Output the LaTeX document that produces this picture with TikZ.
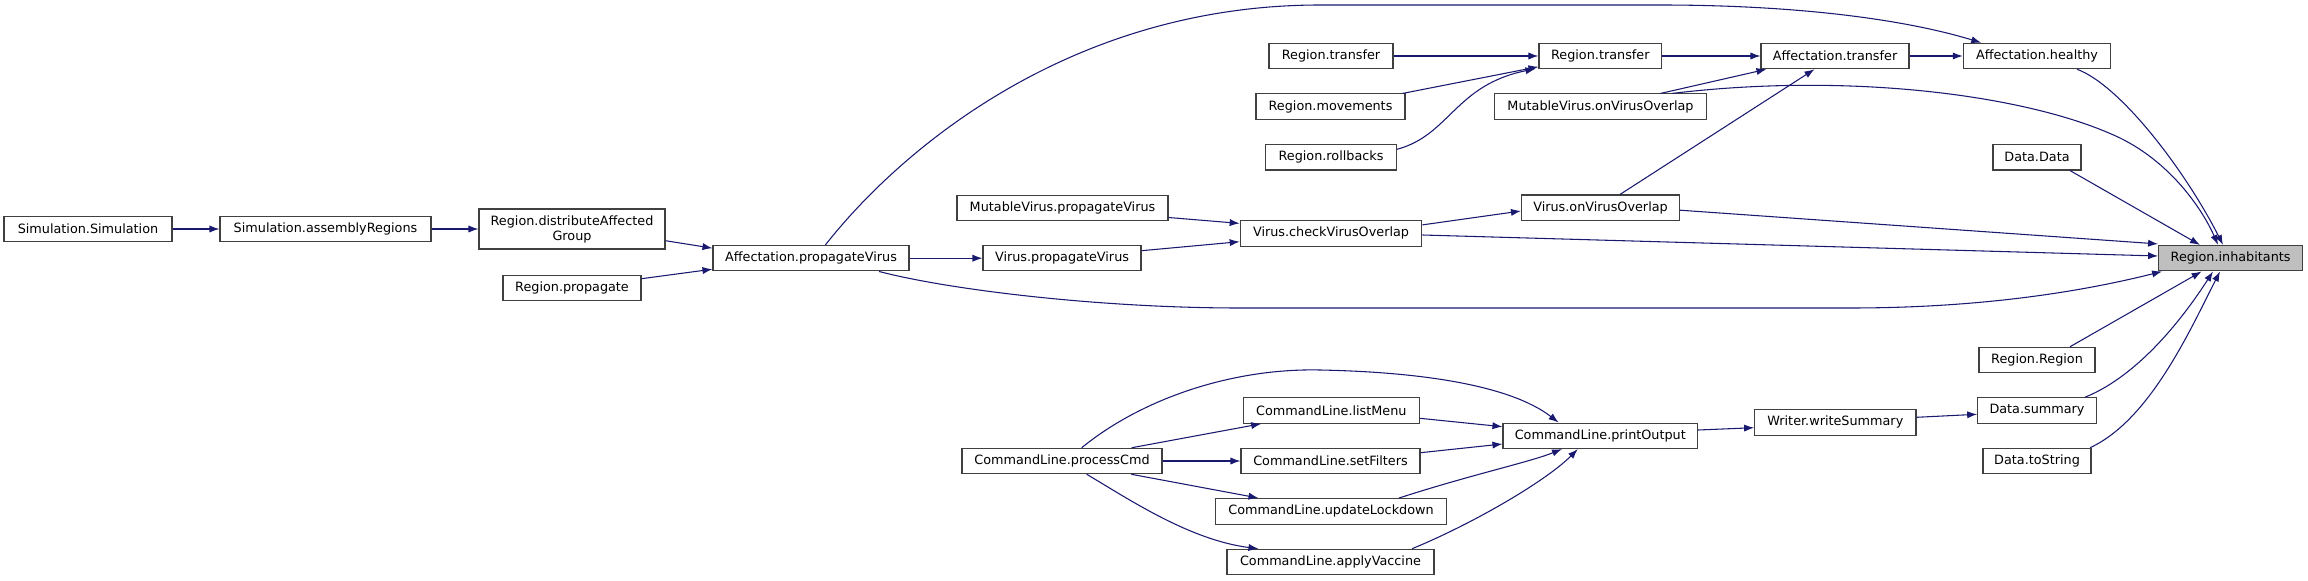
\documentclass[tikz,border=0pt]{standalone}
\usepackage{fontspec}
\setmainfont{DejaVu Sans}
\usetikzlibrary{arrows.meta,calc}
\definecolor{edgecol}{HTML}{191970}
\definecolor{boxline}{HTML}{404040}
\definecolor{rootfill}{HTML}{BFBFBF}
\begin{document}
\begin{tikzpicture}[x=0.75pt,y=-0.75pt,
  nd/.style={draw=boxline,line width=0.8pt,fill=white,inner sep=0pt,minimum height=19.1pt,minimum width=#1,font=\fontsize{9.6}{11.25}\selectfont,align=center},
  rootnd/.style={nd=#1,fill=rootfill},
  edge/.style={draw=edgecol,line width=0.8pt,-{Latex[length=7.5pt,width=5.4pt]}}]
\useasboundingbox (0,0) rectangle (2308,581);
% nodes
\node[nd=126pt] (sim) at (88,229) {Simulation.Simulation};
\node[nd=158.25pt] (asm) at (325.5,229) {Simulation.assemblyRegions};
\node[nd=139.5pt,minimum height=30pt] (dist) at (572,229) {Region.distributeAffected\\Group};
\node[nd=103.5pt] (rprop) at (572,288) {Region.propagate};
\node[nd=147pt] (apv) at (811,258.2) {Affectation.propagateVirus};
\node[nd=158.25pt] (mpv) at (1062.5,208) {MutableVirus.propagateVirus};
\node[nd=118.5pt] (vpv) at (1062,258.2) {Virus.propagateVirus};
\node[nd=136.2pt] (vcv) at (1331,233.4) {Virus.checkVirusOverlap};
\node[nd=118.5pt] (vov) at (1600.5,207.7) {Virus.onVirusOverlap};
\node[nd=93pt] (rt1) at (1331,56) {Region.transfer};
\node[nd=111.75pt] (rmov) at (1330.5,106.7) {Region.movements};
\node[nd=98.25pt] (rroll) at (1331,157.3) {Region.rollbacks};
\node[nd=92pt] (rt2) at (1600.3,56) {Region.transfer};
\node[nd=159pt] (mvov) at (1600.5,106.7) {MutableVirus.onVirusOverlap};
\node[nd=111pt] (atr) at (1835,56) {Affectation.transfer};
\node[nd=110.6pt] (ahl) at (2037,56) {Affectation.healthy};
\node[nd=66pt] (ddata) at (2037,157.3) {Data.Data};
\node[rootnd=108pt] (rinh) at (2230.6,258.2) {Region.inhabitants};
\node[nd=87pt] (rreg) at (2037,360) {Region.Region};
\node[nd=89pt] (dsum) at (2037,410.5) {Data.summary};
\node[nd=81pt] (dtos) at (2037,461) {Data.toString};
\node[nd=121pt] (wws) at (1835.3,422.3) {Writer.writeSummary};
\node[nd=146pt] (cpo) at (1600.3,435.8) {CommandLine.printOutput};
\node[nd=132pt] (clm) at (1331.3,410.5) {CommandLine.listMenu};
\node[nd=134.25pt] (csf) at (1330.5,461) {CommandLine.setFilters};
\node[nd=173.6pt] (cul) at (1331,511.3) {CommandLine.updateLockdown};
\node[nd=155.25pt] (cav) at (1330.5,562) {CommandLine.applyVaccine};
\node[nd=150pt] (cpc) at (1062,461) {CommandLine.processCmd};
% edges
\draw[edge] (sim) -- (asm);
\draw[edge] (asm) -- (asm -| dist.west);
\draw[edge] ($(dist.east)+(0,11.7)$) -- ($(apv.west)+(0,-10)$);
\draw[edge] ($(rprop.east)+(0,-9.3)$) -- ($(apv.west)+(0,11)$);
\draw[edge] (apv) -- (vpv);
\draw[edge] ($(apv.north)+(14.4,0)$) .. controls (900,150) and (1070,5) .. (1320,5) -- (1660,5) .. controls (1790,5) and (1900,18) .. ($(ahl.north west)+(18.5,0)$);
\draw[edge] ($(apv.south)+(68,0)$) .. controls (950,290) and (1100,308) .. (1240,308) -- (1850,308) .. controls (1980,308) and (2080,292) .. ($(rinh.south west)+(4,0)$);
\draw[edge] ($(mpv.east)+(0,9.5)$) -- ($(vcv.west)+(0,-10)$);
\draw[edge] ($(vpv.east)+(0,-7.5)$) -- ($(vcv.west)+(0,8.3)$);
\draw[edge] ($(vcv.east)+(0,-8.5)$) -- ($(vov.west)+(0,3.3)$);
\draw[edge] ($(vcv.east)+(0,1.6)$) -- ($(rinh.west)+(0,-2.2)$);
\draw[edge] ($(vov.north)+(19.5,0)$) -- ($(atr.south west)+(54,0)$);
\draw[edge] ($(vov.east)+(0,2.5)$) -- ($(rinh.north west)+(0,-1)$);
\draw[edge] (rt1) -- (rt2);
\draw[edge] ($(rmov.north east)+(-3,0)$) -- ($(rt2.south west)+(0,-2.5)$);
\draw[edge] ($(rroll.east)+(0,-8)$) .. controls (1450,135) and (1455,85) .. ($(rt2.south west)+(-3,-0.5)$);
\draw[edge] (rt2) -- (atr);
\draw[edge] ($(mvov.north)+(60,0)$) -- ($(atr.south west)+(6,0)$);
\draw[edge] ($(mvov.north)+(71.5,0)$) .. controls (1850,72) and (2030,95) .. (2120,138) .. controls (2175,165) and (2205,215) .. ($(rinh.north)+(-12.6,0)$);
\draw[edge] (atr) -- (ahl);
\draw[edge] ($(ahl.south)+(40,0)$) .. controls (2120,85) and (2185,170) .. ($(rinh.north)+(-7.6,0)$);
\draw[edge] ($(ddata.south)+(33,0)$) -- ($(rinh.north)+(-30.6,0)$);
\draw[edge] ($(rreg.north)+(33,0)$) -- ($(rinh.south)+(-29,0)$);
\draw[edge] ($(dsum.north)+(48,0)$) .. controls (2140,375) and (2185,315) .. ($(rinh.south)+(-17.6,0)$);
\draw[edge] ($(dtos.north)+(53,0)$) .. controls (2150,420) and (2190,330) .. ($(rinh.south)+(-10.6,0)$);
\draw[edge] ($(wws.east)+(0,-5)$) -- ($(dsum.west)+(0,3.8)$);
\draw[edge] ($(cpo.east)+(0,-5.8)$) -- ($(wws.west)+(0,5.4)$);
\draw[edge] ($(clm.east)+(0,7.8)$) -- ($(cpo.west)+(0,-9.1)$);
\draw[edge] ($(csf.east)+(0,-8.3)$) -- ($(cpo.west)+(0,8.2)$);
\draw[edge] ($(cul.north)+(68,0)$) .. controls (1470,475) and (1530,462) .. ($(cpo.south)+(-38.3,0)$);
\draw[edge] ($(cav.north)+(81.5,0)$) .. controls (1470,525) and (1545,482) .. ($(cpo.south)+(-22.5,0)$);
\draw[edge] ($(cpc.north)+(69.7,0)$) -- ($(clm.south west)+(18.4,0)$);
\draw[edge] (cpc) -- (csf);
\draw[edge] ($(cpc.south)+(69.3,0)$) -- ($(cul.north west)+(43.75,0)$);
\draw[edge] ($(cpc.south)+(24.7,0)$) .. controls (1130,500) and (1190,540) .. ($(cav.north west)+(32,0)$);
\draw[edge] ($(cpc.north)+(19.7,0)$) .. controls (1140,400) and (1230,368) .. (1320,370) .. controls (1420,372) and (1510,385) .. ($(cpo.north)+(-41.7,0)$);
\end{tikzpicture}
\end{document}
